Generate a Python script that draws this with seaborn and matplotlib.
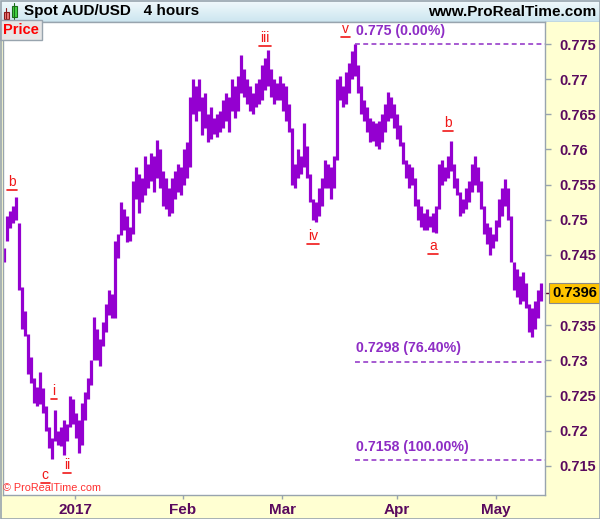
import matplotlib
matplotlib.use("Agg")
import matplotlib.pyplot as plt
import matplotlib.transforms as mtransforms
from matplotlib.patches import Rectangle
from matplotlib.lines import Line2D
import numpy as np
import pandas as pd
import seaborn as sns

# ---- AUD/USD bars (high / low), oldest first ----
bar_high = [
    0.7460, 0.7505, 0.7512, 0.7520, 0.7532, 0.7495, 0.7405, 0.7370, 0.7338, 0.7305,
    0.7275, 0.7262, 0.7283, 0.7260, 0.7235, 0.7205, 0.7190, 0.7230, 0.7200, 0.7205,
    0.7215, 0.7210, 0.7250, 0.7245, 0.7225, 0.7215, 0.7240, 0.7255, 0.7275, 0.7300,
    0.7362, 0.7345, 0.7330, 0.7355, 0.7380, 0.7400, 0.7395, 0.7470, 0.7480, 0.7525,
    0.7515, 0.7505, 0.7490, 0.7555, 0.7575, 0.7565, 0.7560, 0.7590, 0.7580, 0.7595,
    0.7590, 0.7613, 0.7600, 0.7570, 0.7560, 0.7545, 0.7560, 0.7570, 0.7580, 0.7575,
    0.7600, 0.7611, 0.7675, 0.7700, 0.7690, 0.7700, 0.7675, 0.7680, 0.7650, 0.7660,
    0.7645, 0.7650, 0.7655, 0.7670, 0.7680, 0.7675, 0.7700, 0.7690, 0.7705, 0.7734,
    0.7715, 0.7700, 0.7690, 0.7680, 0.7695, 0.7700, 0.7720, 0.7730, 0.7741, 0.7715,
    0.7700, 0.7695, 0.7705, 0.7695, 0.7690, 0.7665, 0.7630, 0.7580, 0.7600, 0.7590,
    0.7638, 0.7605, 0.7565, 0.7530, 0.7525, 0.7545, 0.7560, 0.7585, 0.7580, 0.7575,
    0.7590, 0.7700, 0.7705, 0.7690, 0.7710, 0.7723, 0.7740, 0.7750, 0.7720, 0.7690,
    0.7670, 0.7660, 0.7645, 0.7640, 0.7638, 0.7640, 0.7650, 0.7665, 0.7682, 0.7675,
    0.7665, 0.7650, 0.7635, 0.7610, 0.7585, 0.7580, 0.7575, 0.7560, 0.7530, 0.7520,
    0.7510, 0.7515, 0.7505, 0.7510, 0.7520, 0.7580, 0.7585, 0.7575, 0.7590, 0.7612,
    0.7580, 0.7560, 0.7540, 0.7530, 0.7545, 0.7555, 0.7580, 0.7590, 0.7575, 0.7555,
    0.7520, 0.7495, 0.7490, 0.7480, 0.7500, 0.7530, 0.7545, 0.7558, 0.7545, 0.7505,
    0.7440, 0.7430, 0.7420, 0.7425, 0.7410, 0.7380, 0.7375, 0.7385, 0.7400, 0.7410,
]
bar_low = [
    0.7440, 0.7470, 0.7488, 0.7495, 0.7500, 0.7400, 0.7345, 0.7335, 0.7280, 0.7268,
    0.7240, 0.7235, 0.7238, 0.7225, 0.7200, 0.7175, 0.7160, 0.7185, 0.7180, 0.7178,
    0.7165, 0.7185, 0.7205, 0.7210, 0.7190, 0.7168, 0.7180, 0.7215, 0.7245, 0.7265,
    0.7300, 0.7300, 0.7292, 0.7320, 0.7340, 0.7365, 0.7360, 0.7360, 0.7445, 0.7478,
    0.7485, 0.7468, 0.7470, 0.7480, 0.7530, 0.7510, 0.7525, 0.7535, 0.7545, 0.7555,
    0.7540, 0.7560, 0.7545, 0.7520, 0.7515, 0.7505, 0.7510, 0.7530, 0.7540, 0.7535,
    0.7550, 0.7560, 0.7575, 0.7650, 0.7640, 0.7655, 0.7620, 0.7630, 0.7610, 0.7615,
    0.7622, 0.7618, 0.7625, 0.7630, 0.7640, 0.7625, 0.7655, 0.7645, 0.7655, 0.7680,
    0.7675, 0.7665, 0.7655, 0.7650, 0.7660, 0.7665, 0.7670, 0.7685, 0.7690, 0.7675,
    0.7665, 0.7670, 0.7670, 0.7655, 0.7640, 0.7625, 0.7550, 0.7545, 0.7560, 0.7565,
    0.7575, 0.7560, 0.7525, 0.7500, 0.7497, 0.7505, 0.7520, 0.7545, 0.7545, 0.7530,
    0.7545, 0.7585, 0.7670, 0.7660, 0.7665, 0.7680, 0.7700, 0.7705, 0.7680, 0.7650,
    0.7640, 0.7625, 0.7610, 0.7612, 0.7605, 0.7600, 0.7610, 0.7625, 0.7640, 0.7645,
    0.7630, 0.7615, 0.7605, 0.7580, 0.7560, 0.7545, 0.7550, 0.7520, 0.7500, 0.7490,
    0.7485, 0.7485, 0.7490, 0.7482, 0.7481, 0.7515, 0.7550, 0.7555, 0.7560, 0.7570,
    0.7545, 0.7535, 0.7505, 0.7510, 0.7515, 0.7525, 0.7540, 0.7550, 0.7540, 0.7515,
    0.7480, 0.7465, 0.7450, 0.7460, 0.7470, 0.7490, 0.7505, 0.7520, 0.7500, 0.7440,
    0.7400, 0.7390, 0.7380, 0.7385, 0.7375, 0.7340, 0.7333, 0.7345, 0.7360, 0.7385,
]
last_price = 0.7396

# ---- axis ticks ----
month_pos = [23.7, 59.7, 92.7, 131.0, 164.0]
month_labels = ["2017", "Feb", "Mar", "Apr", "May"]
price_ticks = [0.715, 0.72, 0.725, 0.73, 0.735, 0.745, 0.75, 0.755, 0.76, 0.765, 0.77, 0.775]
price_tick_labels = ["0.715", "0.72", "0.725", "0.73", "0.735", "0.745", "0.75",
                     "0.755", "0.76", "0.765", "0.77", "0.775"]

# ---- wave labels ----
wave_text = ["b", "c", "i", "ii", "iii", "iv", "v", "a", "b"]
wave_x = [2.7, 13.7, 16.7, 21.0, 87.0, 103.0, 114.0, 143.0, 148.0]
wave_y = [0.7554, 0.7137, 0.7256, 0.7151, 0.7759, 0.7477, 0.7771, 0.7463, 0.7638]

# ---- Fibonacci retracement ----
fib_levels = [0.775, 0.7298, 0.7158]
fib_labels = ["0.775 (0.00%)", "0.7298 (76.40%)", "0.7158 (100.00%)"]
fib_start = 117.0

sns.set_theme(style="white")
plt.rcParams["font.family"] = ["Liberation Sans", "DejaVu Sans"]

BAR = "#9400D0"
FIB = "#8E2DC5"
AXTXT = "#5A0A5E"
FRAME = "#98A4AE"
PANEL = "#FFFFD2"
WAVE = "#F01818"

W, H = 600, 519
fig = plt.figure(figsize=(W / 100, H / 100), dpi=100, facecolor=PANEL)

# header band
hax = fig.add_axes([0, (H - 22) / H, 1, 22 / H])
grad = np.linspace(0, 1, 50).reshape(-1, 1)
top_c = np.array([0.95, 0.98, 0.99])
bot_c = np.array([0.80, 0.90, 0.94])
img = top_c[None, None, :] * (1 - grad[:, :, None]) + bot_c[None, None, :] * grad[:, :, None]
hax.imshow(img, aspect="auto", extent=[0, W, 22, 0])
hax.set_xlim(0, W)
hax.set_ylim(22, 0)
hax.axis("off")
hax.plot([0, W], [21.5, 21.5], color=FRAME, lw=1)
# candle icon
hax.plot([6, 6], [8, 20], color="#8B1A1A", lw=0.8)
hax.add_patch(Rectangle((3.5, 12), 5, 6.5, facecolor="#F07878", edgecolor="#8B1A1A", lw=0.8))
hax.plot([14, 14], [3, 19], color="#1A6B1A", lw=0.8)
hax.add_patch(Rectangle((11.5, 5.5), 5, 11, facecolor="#44D444", edgecolor="#1A6B1A", lw=0.8))
hax.text(24, 11.5, "Spot AUD/USD   4 hours", fontsize=11, fontweight="bold",
         color="black", va="center", ha="left")
hax.text(596, 11.5, "www.ProRealTime.com", fontsize=11, fontweight="bold",
         color="black", va="center", ha="right")

# price panel
ax = fig.add_axes([3 / W, 24 / H, 542 / W, (495 - 22) / H])
ax.set_facecolor("white")

n = len(bar_high)
bars = pd.DataFrame({
    "bar": np.repeat(np.arange(n), 2),
    "price": np.column_stack([bar_low, bar_high]).ravel(),
})
bars["x"] = bars["bar"].astype(float)
sns.lineplot(data=bars, x="x", y="price", units="bar", estimator=None, sort=False,
             color=BAR, ax=ax, legend=False)
for ln in ax.lines:
    ln.set_linewidth(2.3)
    ln.set_solid_capstyle("butt")

xmin = -0.3
x_right = xmin + 542 / 3
ax.set_xlim(xmin, x_right)
ax.set_ylim(0.71085, 0.77813)

# Fibonacci levels
for lvl, lab in zip(fib_levels, fib_labels):
    ax.plot([fib_start, x_right], [lvl, lvl], color=FIB, lw=1.1, ls=(0, (3.2, 2.2)))
    ax.text(fib_start + 0.3, lvl + 0.0009, lab, color=FIB, fontsize=10.2,
            fontweight="bold", ha="left", va="bottom")

# wave labels (underlined)
wave_artists = []
for t, x, y in zip(wave_text, wave_x, wave_y):
    wave_artists.append(ax.text(x, y, t, color=WAVE, fontsize=10, ha="center", va="center"))

# axes styling
for s in ax.spines.values():
    s.set_color(FRAME)
    s.set_linewidth(1)

ax.yaxis.tick_right()
ax.set_yticks(price_ticks)
ax.set_yticklabels(price_tick_labels)
ax.tick_params(axis="y", right=True, left=False, direction="out", length=4, width=1,
               color=FRAME, pad=6, labelsize=10.5, labelcolor=AXTXT)
for lab in ax.get_yticklabels():
    lab.set_fontweight("bold")

ax.set_xticks(month_pos)
ax.set_xticklabels(month_labels)
ax.tick_params(axis="x", bottom=True, direction="out", length=3, width=1,
               color=FRAME, pad=3, labelsize=11, labelcolor=AXTXT)
for lab in ax.get_xticklabels():
    lab.set_fontweight("bold")
ax.set_xlabel("")
ax.set_ylabel("")
ax.grid(False)

# current price marker
trans = mtransforms.blended_transform_factory(ax.transAxes, ax.transData)
ax.plot([1.0, 1.012], [last_price, last_price], color="#5A0A30", lw=1,
        transform=trans, clip_on=False)
ax.text(1.013, last_price, f"{last_price:.4f}", transform=trans, fontsize=10.5,
        fontweight="bold", color="black", ha="left", va="center",
        bbox=dict(boxstyle="square,pad=0.2", facecolor="#FFC400", edgecolor="#8A8A8A", lw=0.8))

# "Price" tag and copyright
ax.text(0.0, 0.998, "Price", transform=ax.transAxes, fontsize=10.5, fontweight="bold",
        color="#FF0000", ha="left", va="top",
        bbox=dict(boxstyle="square,pad=0.2", facecolor="#E6E6E6", edgecolor=FRAME, lw=1))
ax.text(0.0, 0.005, "\u00a9 ProRealTime.com", transform=ax.transAxes, fontsize=7.8,
        color="#FF3030", ha="left", va="bottom")

# underline the wave labels using their rendered extents
fig.canvas.draw()
renderer = fig.canvas.get_renderer()
for art in wave_artists:
    bb = art.get_window_extent(renderer)
    yline = bb.y0 - 1.0
    fig.add_artist(Line2D([bb.x0 - 1, bb.x1 + 1], [yline, yline], transform=None,
                          color=WAVE, lw=1.2))

# outer frame
fig.patches.append(Rectangle((0.5 / W, 0.5 / H), 1 - 1 / W, 1 - 1 / H, transform=fig.transFigure,
                             fill=False, edgecolor=FRAME, lw=1.2))

fig.savefig("out.png", dpi=100, facecolor=PANEL)
